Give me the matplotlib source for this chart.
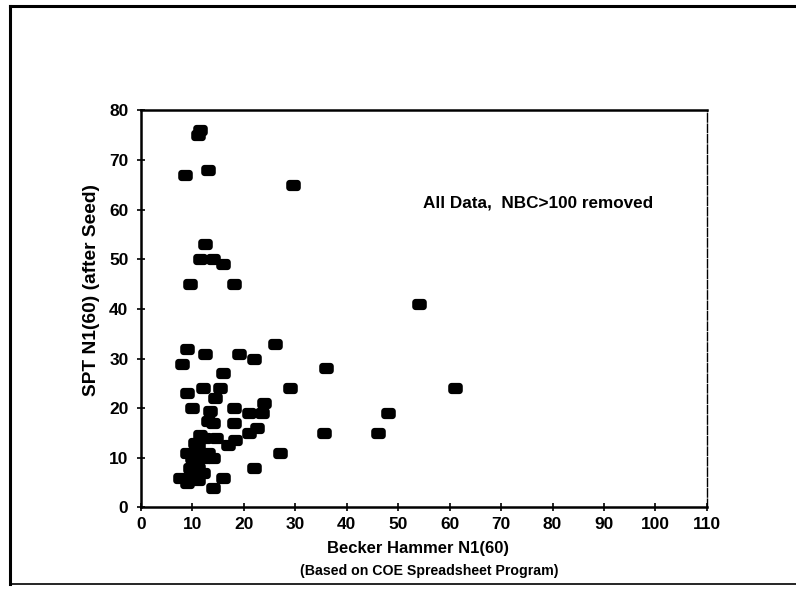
import numpy as np
import matplotlib
matplotlib.use("Agg")
import matplotlib.pyplot as plt
from matplotlib.path import Path
from matplotlib.lines import Line2D

# Data
becker_n160 = [11, 11.5, 8.5, 13, 29.5, 12.5, 11.5, 14, 16, 9.5, 18, 54,
               9, 12.5, 19, 22, 26, 36, 8, 16, 29, 61, 9, 12, 15.3, 14.4,
               10, 13.5, 14, 18, 18, 21, 23.5, 24, 48, 35.5, 46,
               10.5, 11.5, 12.5, 11, 14.5, 17, 18.3, 21, 22.5, 27,
               9, 10, 11, 12, 13, 14, 10.5, 12.5,
               9.5, 11, 12, 7.5, 9, 10, 11, 16, 14, 22, 13]
spt_n160 = [75, 76, 67, 68, 65, 53, 50, 50, 49, 45, 45, 41,
            32, 31, 31, 30, 33, 28, 29, 27, 24, 24, 23, 24, 24, 22,
            20, 19.5, 17, 20, 17, 19, 19, 21, 19, 15, 15,
            13, 14.5, 14, 12.5, 14, 12.5, 13.5, 15, 16, 11,
            11, 10, 11, 10.5, 11, 10, 10, 10,
            8, 8, 7, 6, 5, 6, 5.5, 6, 4, 8, 17.5]
x_ticks = list(range(0, 111, 10))
y_ticks = list(range(0, 81, 10))
annotation = "All Data,  NBC>100 removed"
xlabel1 = "Becker Hammer N1(60)"
xlabel2 = "(Based on COE Spreadsheet Program)"
ylabel = "SPT N1(60) (after Seed)"

# rounded-rectangle marker shape
def rounded_rect(w=1.3, h=1.0, r=0.3, n=6):
    verts = []
    corners = [(w/2 - r, h/2 - r, 0), (-w/2 + r, h/2 - r, 90),
               (-w/2 + r, -h/2 + r, 180), (w/2 - r, -h/2 + r, 270)]
    for cx, cy, a0 in corners:
        for t in np.linspace(np.radians(a0), np.radians(a0 + 90), n):
            verts.append((cx + r*np.cos(t), cy + r*np.sin(t)))
    verts.append(verts[0])
    codes = [Path.MOVETO] + [Path.LINETO]*(len(verts) - 2) + [Path.CLOSEPOLY]
    return Path(verts, codes)

marker = rounded_rect()

plt.rcParams['font.family'] = ['Liberation Sans', 'DejaVu Sans']
fig = plt.figure(figsize=(7.96, 5.97), dpi=100)
ax = fig.add_axes([0.1771, 0.150, 0.711, 0.665])

ax.plot(becker_n160, spt_n160, linestyle='none', marker=marker,
        markersize=10.5, color='black', markeredgewidth=0)

ax.set_xlim(0, 110)
ax.set_ylim(0, 80)
ax.set_xticks(x_ticks)
ax.set_yticks(y_ticks)
ax.tick_params(direction='inout', length=6, width=1.2, labelsize=12.5)
ax.tick_params(axis='y', pad=6)
ax.tick_params(axis='x', pad=4)
for lab in ax.get_xticklabels() + ax.get_yticklabels():
    lab.set_fontweight('bold')
for s in ['left', 'bottom', 'top']:
    ax.spines[s].set_linewidth(1.8)
ax.spines['right'].set_linewidth(1.0)
ax.spines['right'].set_linestyle((0, (6, 1.5)))

ax.text(54.8, 61.3, annotation, fontsize=12.3, fontweight='bold', va='center', ha='left')

fig.text(418/796, 1 - 549/597, xlabel1, ha='center', va='center', fontsize=12, fontweight='bold')
fig.text(429/796, 1 - 571/597, xlabel2, ha='center', va='center', fontsize=10.2, fontweight='bold')
fig.text(92/796, 1 - 290/597, ylabel, ha='center', va='center', rotation=90,
         fontsize=13.8, fontweight='bold')

# page frame from the scanned figure
fig.add_artist(Line2D([10/796, 1.0], [1 - 6/597, 1 - 6/597], color='black', lw=2.2,
                      transform=fig.transFigure))
fig.add_artist(Line2D([10/796, 10/796], [1 - 6/597, 1 - 584/597], color='black', lw=2.2,
                      transform=fig.transFigure))
fig.add_artist(Line2D([10/796, 1.0], [1 - 584/597, 1 - 584/597], color='black', lw=1.2,
                      transform=fig.transFigure))

fig.savefig("out.png", dpi=100)
